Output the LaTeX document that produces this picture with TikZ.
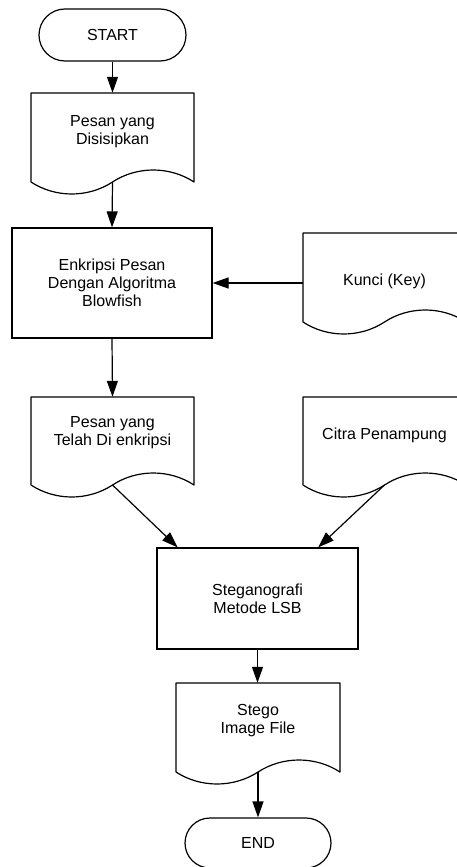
\documentclass[tikz,border=0pt]{standalone}
\usepackage{fontspec}
\setmainfont{Liberation Sans}
\usetikzlibrary{arrows.meta,shapes.misc,calc}
\newcommand\lab{\fontsize{16}{18}\selectfont}
\tikzset{
 outline/.style={draw=black, line width=1.2pt, line join=round},
 term/.style={rounded rectangle, draw, line width=1.2pt, minimum width=147pt, minimum height=52pt, inner sep=0pt, font=\lab},
 procbox/.style={rectangle, draw, line width=1.2pt, inner sep=0pt, align=center, font=\lab},
 txt/.style={align=center, inner sep=0pt, font=\lab},
 docframe/.style={rectangle, draw=none, inner sep=0pt},
 flow/.style={-{Triangle[length=16pt,width=11pt]}, line width=1.2pt},
}
\newcommand\docpath[5]{%
 \pgfmathsetmacro\dcL{#2}\pgfmathsetmacro\dcR{#2+#4}\pgfmathsetmacro\dcT{#3}%
 \pgfmathsetmacro\dcM{#3+#5}\pgfmathsetmacro\dcC{#2+#4/2}%
 \pgfmathsetmacro\dcA{#2+#4*0.35}\pgfmathsetmacro\dcB{#2+#4*0.15}%
 \pgfmathsetmacro\dcE{#2+#4*0.65}\pgfmathsetmacro\dcF{#2+#4*0.85}%
 \pgfmathsetmacro\dcDn{#3+#5+16}\pgfmathsetmacro\dcUp{#3+#5-16}%
 \pgfmathsetmacro\dcMid{#3+#5/2}%
 \node[docframe, minimum width=#4pt, minimum height=#5pt] (#1) at (\dcC,\dcMid) {};
 \draw[outline] (\dcL,\dcM) -- (\dcL,\dcT) -- (\dcR,\dcT) -- (\dcR,\dcM)
   .. controls (\dcF,\dcUp) and (\dcE,\dcUp) .. (\dcC,\dcM)
   .. controls (\dcA,\dcDn) and (\dcB,\dcDn) .. (\dcL,\dcM) -- cycle;
 \coordinate (#1-w) at (\dcC,\dcM);
}
\begin{document}
\begin{tikzpicture}[x=1pt,y=-1pt]
\clip (0,0) rectangle (457,867);
\fill[white] (0,0) rectangle (457,867);
% terminators and process boxes
\node[term] (start) at (112.5,35) {START};
\node[procbox, minimum width=200pt, minimum height=110pt] (enc) at (112,283) {Enkripsi Pesan\\Dengan Algoritma\\Blowfish};
\node[procbox, minimum width=201pt, minimum height=101pt] (lsb) at (257.5,598.5) {Steganografi\\Metode LSB};
\node[term, minimum width=146pt, minimum height=50pt] (end) at (258,843) {END};
% documents
\docpath{d1}{31}{93}{163}{89}
\node[txt] (d1t) at (112.5,132) {Pesan yang\\Disisipkan};
\docpath{key}{303}{233}{163}{89}
\node[txt] (keyt) at (384.5,281) {Kunci (Key)};
\docpath{d3}{31}{397}{163}{88}
\node[txt] (d3t) at (112.5,433) {Pesan yang\\Telah Di enkripsi};
\docpath{cit}{303}{397}{163}{88}
\node[txt] (citt) at (384.5,435) {Citra Penampung};
\docpath{d5}{176}{683}{164}{89}
\node[txt] (d5t) at (258,721) {Stego\\Image File};
% connectors
\draw[flow] (start.south) -- (d1.north);
\draw[flow] (d1-w) -- (enc.north);
\draw[flow] (key.west |- enc.east) -- (enc.east);
\draw[flow] (enc.south) -- (d3.north);
\draw[flow] (d3-w) -- ($(lsb.north west)!0.105!(lsb.north east)$);
\draw[flow] (cit-w) -- ($(lsb.north west)!0.8!(lsb.north east)$);
\draw[flow] (lsb.south) -- (lsb.south |- d5.north);
\draw[flow] (d5-w) -- (end.north);
\end{tikzpicture}
\end{document}
